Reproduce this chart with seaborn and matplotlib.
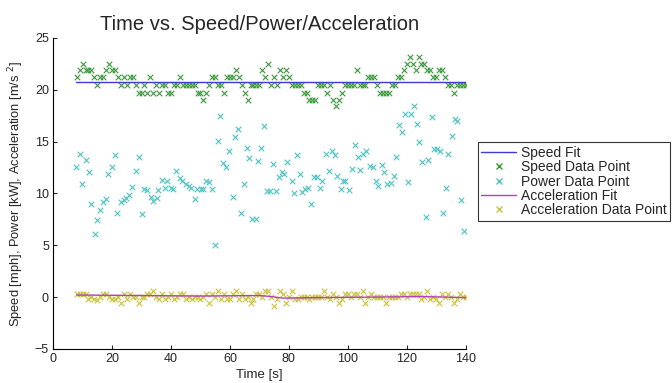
import numpy as np
import pandas as pd
import seaborn as sns
import matplotlib.pyplot as plt
from matplotlib.lines import Line2D

# sample times (s)
time = np.arange(8, 141)

speed = [21.2, 21.9, 22.5, 21.9, 21.9, 21.9, 21.2, 20.5, 21.2, 21.2,
         21.9, 22.5, 21.9, 21.9, 21.2, 20.5, 21.2, 20.5, 21.2, 21.2,
         20.5, 19.7, 19.7, 20.5, 19.7, 21.2, 19.7, 20.5, 19.7, 20.5,
         20.5, 19.7, 19.7, 20.5, 20.5, 21.2, 20.5, 20.5, 20.5, 20.5,
         20.5, 19.7, 19.7, 19.0, 19.7, 20.5, 21.2, 21.2, 20.5, 20.5,
         19.7, 21.2, 21.2, 21.2, 21.9, 21.2, 20.5, 19.7, 19.0, 20.5,
         20.5, 20.5, 20.5, 21.9, 21.2, 22.5, 20.5, 21.2, 20.5, 21.9,
         21.2, 21.9, 21.2, 20.5, 20.5, 20.5, 20.5, 19.7, 19.7, 19.0,
         19.0, 19.0, 20.5, 20.5, 20.5, 19.7, 20.5, 19.0, 18.4, 19.0,
         19.7, 20.5, 20.5, 20.5, 20.5, 21.9, 20.5, 20.5, 20.5, 21.2,
         21.2, 21.2, 20.5, 19.7, 19.7, 19.7, 19.7, 20.5, 20.5, 21.2,
         21.2, 21.9, 22.5, 23.2, 22.5, 21.9, 23.2, 22.5, 22.5, 21.9,
         21.9, 21.2, 21.2, 21.9, 21.9, 21.2, 20.5, 20.5, 19.7, 20.5,
         20.5, 20.5, 20.5]

accel = [0.3, 0.3, 0.3, 0.3, -0.2, 0.0, -0.2, -0.3, 0.0, 0.3,
         0.3, 0.0, -0.2, -0.2, 0.0, -0.6, 0.3, -0.2, 0.3, 0.0,
         0.0, -0.6, 0.0, 0.0, 0.3, 0.3, 0.6, 0.0, -0.2, 0.3,
         -0.2, 0.0, 0.3, -0.2, 0.0, 0.3, 0.3, -0.2, 0.0, -0.2,
         0.0, 0.0, -0.2, 0.0, 0.3, -0.6, 0.3, 0.0, 0.6, -0.2,
         0.3, -0.2, -0.2, 0.3, 0.6, -0.2, 0.3, -0.2, 0.0, -0.6,
         -0.2, 0.3, 0.3, 0.0, 0.6, 0.6, 0.0, -0.9, -0.2, 0.6,
         0.3, -0.6, 0.0, 0.6, -0.2, -0.2, 0.0, 0.0, 0.0, -0.2,
         0.0, 0.0, 0.0, 0.0, 0.6, 0.0, -0.2, 0.3, 0.0, -0.6,
         -0.2, 0.3, 0.3, 0.0, 0.3, 0.3, 0.0, 0.6, -0.6, 0.0,
         0.3, 0.0, 0.0, 0.0, 0.0, -0.6, 0.0, 0.0, 0.0, 0.0,
         0.3, 0.3, 0.0, 0.3, 0.3, 0.3, 0.3, -0.2, 0.0, 0.6,
         -0.2, 0.0, -0.2, -0.6, 0.3, 0.0, 0.3, 0.0, -0.6, -0.2,
         0.3, 0.0, 0.0]

power_time = [7.7, 9.0, 9.9, 11.1, 12.2, 12.8, 14.1, 15.0, 15.8, 17.1,
              17.9, 18.7, 19.9, 20.9, 21.8, 23.0, 23.9, 24.6, 25.6, 26.9,
              28.0, 29.0, 30.1, 30.7, 31.8, 33.1, 33.9, 35.1, 35.7, 36.9,
              38.0, 38.8, 39.9, 40.8, 41.8, 43.0, 43.8, 45.0, 46.1, 46.7,
              48.0, 48.9, 50.1, 51.0, 52.0, 52.9, 53.8, 54.8, 55.9, 56.6,
              57.8, 58.8, 59.7, 61.0, 61.7, 62.8, 63.6, 64.8, 65.9, 66.5,
              67.6, 68.7, 69.6, 70.7, 71.5, 72.7, 73.6, 74.7, 75.8, 76.6,
              77.7, 78.5, 79.4, 80.9, 81.7, 82.6, 83.8, 84.6, 85.4, 86.5,
              87.6, 88.5, 89.4, 90.6, 91.3, 92.5, 93.6, 94.5, 95.6, 96.4,
              97.6, 98.4, 99.2, 100.4, 101.3, 102.4, 103.5, 104.3, 105.2, 106.2,
              107.4, 108.6, 109.4, 110.3, 111.6, 112.4, 113.3, 114.5, 115.6, 116.5,
              117.3, 118.5, 119.4, 120.5, 121.3, 122.4, 123.6, 124.1, 125.2, 126.4,
              127.2, 128.4, 129.2, 130.3, 131.2, 132.2, 133.3, 134.0, 135.4, 136.5,
              137.1, 138.5, 139.3]
power = [12.5, 13.8, 10.9, 13.2, 12.1, 9.0, 6.1, 7.4, 8.4, 9.2,
         9.5, 11.9, 12.5, 13.7, 8.1, 9.2, 9.4, 9.6, 9.8, 10.6,
         12.2, 13.5, 8.0, 10.4, 10.3, 9.7, 9.3, 9.6, 10.3, 11.3,
         10.5, 11.2, 10.5, 10.4, 12.2, 11.5, 11.2, 10.9, 10.7, 10.5,
         9.5, 10.4, 10.4, 10.4, 11.2, 11.1, 10.4, 5.0, 15.1, 17.5,
         12.9, 12.5, 14.1, 9.7, 15.4, 16.2, 8.1, 10.9, 14.4, 13.4,
         7.5, 7.5, 13.1, 14.4, 16.5, 10.2, 10.2, 12.8, 10.2, 11.6,
         12.1, 11.9, 13.0, 11.2, 10.0, 13.7, 11.9, 10.1, 10.4, 10.5,
         9.0, 11.6, 11.6, 10.5, 11.2, 13.8, 12.2, 14.1, 13.7, 11.7,
         10.4, 11.2, 11.2, 10.3, 12.4, 14.7, 13.5, 12.3, 13.8, 14.1,
         12.6, 12.5, 11.2, 10.7, 12.7, 12.1, 10.9, 11.0, 11.7, 13.5,
         16.6, 15.9, 17.7, 11.1, 17.7, 18.4, 16.7, 15.0, 13.0, 7.7,
         13.2, 17.4, 14.3, 14.3, 14.1, 8.1, 10.5, 13.8, 15.5, 17.2,
         17.0, 9.4, 6.4]

speed_fit_time = [7.7, 140]
speed_fit = [20.7, 20.7]
accel_fit_time = [8, 30, 50, 70, 74, 78, 90, 110, 125, 140]
accel_fit = [0.2, 0.15, 0.1, 0.15, 0.05, -0.1, -0.05, 0.0, 0.05, -0.05]

c_speed_fit = '#3c3cd2'
c_speed = '#3a9a3a'
c_power = '#4cc4c4'
c_accel_fit = '#b040c0'
c_accel = '#cbc23c'

sns.set_style('ticks')
plt.rcParams['font.family'] = ['Liberation Sans', 'DejaVu Sans']

fig = plt.figure(figsize=(6.72, 3.83), dpi=100)
ax = fig.add_axes([0.079, 0.089, 0.614, 0.812])

sns.lineplot(x=speed_fit_time, y=speed_fit, color=c_speed_fit, linewidth=1.0, ax=ax)
sns.scatterplot(x=time, y=speed, marker='x', color=c_speed, s=16, linewidth=0.8, ax=ax)
sns.scatterplot(x=power_time, y=power, marker='x', color=c_power, s=16, linewidth=0.8, ax=ax)
sns.lineplot(x=accel_fit_time, y=accel_fit, color=c_accel_fit, linewidth=1.0, ax=ax)
sns.scatterplot(x=time, y=accel, marker='x', color=c_accel, s=16, linewidth=0.8, ax=ax)

ax.set_xlim(0, 140)
ax.set_ylim(-5, 25)
ax.set_xticks(range(0, 141, 20))
ax.set_yticks(range(-5, 26, 5))
ax.tick_params(direction='in', length=3, width=0.8, labelsize=9, pad=3)
for s in ['top', 'right']:
    ax.spines[s].set_visible(False)
for s in ['left', 'bottom']:
    ax.spines[s].set_linewidth(0.8)
    ax.spines[s].set_color('black')

ax.set_title('Time vs. Speed/Power/Acceleration', fontsize=14.5, pad=6)
ax.set_xlabel('Time [s]', fontsize=9.5, labelpad=3)
ax.set_ylabel('Speed [mph], Power [kW], Acceleration [m/s $^2$]', fontsize=9.3, labelpad=6)

handles = [
    Line2D([], [], color=c_speed_fit, linewidth=1.0),
    Line2D([], [], color=c_speed, marker='x', linestyle='None', markersize=4),
    Line2D([], [], color=c_power, marker='x', linestyle='None', markersize=4),
    Line2D([], [], color=c_accel_fit, linewidth=1.0),
    Line2D([], [], color=c_accel, marker='x', linestyle='None', markersize=4),
]
labels = ['Speed Fit', 'Speed Data Point', 'Power Data Point',
          'Acceleration Fit', 'Acceleration Data Point']
leg = fig.legend(handles, labels, loc='upper left', bbox_to_anchor=(0.711, 0.628),
                 fontsize=10, frameon=True, fancybox=False, handlelength=2.5,
                 handletextpad=0.35, labelspacing=0.02, borderpad=0.25,
                 borderaxespad=0)
leg.get_frame().set_edgecolor('black')
leg.get_frame().set_linewidth(0.8)

fig.savefig('out.png', dpi=100)
